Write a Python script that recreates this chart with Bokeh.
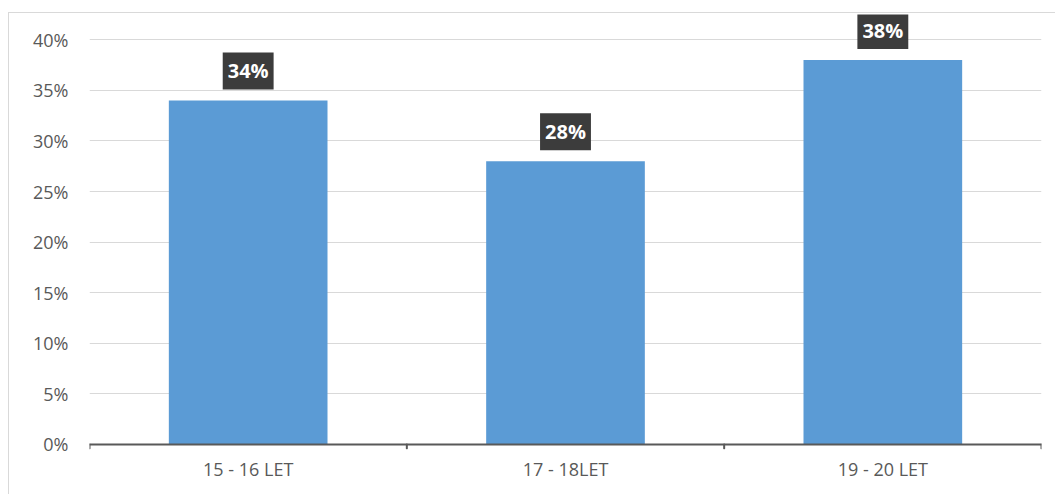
from bokeh.plotting import figure
from bokeh.models import FactorRange, Range1d, FixedTicker, ColumnDataSource, Label, Span
from bokeh.embed import file_html
from bokeh.resources import INLINE

categories = ["15 - 16 LET", "17 - 18LET", "19 - 20 LET"]
values = [34, 28, 38]
labels = ["34%", "28%", "38%"]
yticks = [0, 5, 10, 15, 20, 25, 30, 35, 40]

src = ColumnDataSource(dict(x=categories, y=values, lab=labels))

p = figure(x_range=FactorRange(*categories, range_padding=0), y_range=Range1d(-0.5, 42.5),
           width=1047, height=482, output_backend="svg", toolbar_location=None,
           min_border_left=80, min_border_right=15, min_border_top=1, min_border_bottom=46)
p.styles = {"margin-left": "8px", "margin-top": "12px",
            "border-left": "1px solid #d9d9d9", "border-top": "1px solid #d9d9d9"}
p.outline_line_color = None
p.background_fill_color = "white"

p.vbar(x="x", top="y", width=0.5, source=src, color="#5b9bd5", line_color=None)

# boundary ticks between categories
bx = list(range(len(categories) + 1))
p.segment(x0=bx, y0=[0] * len(bx), x1=bx, y1=[-0.4] * len(bx),
          line_color="#595959", line_width=2, line_cap="round")
p.add_layout(Span(location=0, dimension="width", line_color="#595959", line_width=2))

p.yaxis.ticker = FixedTicker(ticks=yticks)
p.yaxis.major_label_overrides = {t: f"{t}%" for t in yticks}
p.yaxis.axis_line_color = None
p.yaxis.major_tick_line_color = None
p.yaxis.minor_tick_line_color = None
p.yaxis.major_tick_out = 0
p.yaxis.major_label_text_font = "Open Sans"
p.yaxis.major_label_text_font_size = "18px"
p.yaxis.major_label_text_color = "#595959"
p.yaxis.major_label_standoff = 21

p.xaxis.axis_line_color = None
p.xaxis.major_tick_line_color = None
p.xaxis.major_tick_out = 0
p.xaxis.major_label_text_font = "Open Sans"
p.xaxis.major_label_text_font_size = "18px"
p.xaxis.major_label_text_color = "#595959"
p.xaxis.major_label_standoff = 7

p.xgrid.grid_line_color = None
p.ygrid.grid_line_color = "#d9d9d9"
p.ygrid.grid_line_width = 1

for i, (v, t) in enumerate(zip(values, labels)):
    p.add_layout(Label(x=i + 0.5, y=v, text=t, text_align="center", text_baseline="bottom",
                       y_offset=11, text_color="white", text_font="Open Sans",
                       text_font_style="bold", text_font_size="20px",
                       background_fill_color="#3c3c3c", padding=5))

open("out.html", "w").write(file_html(p, INLINE))
